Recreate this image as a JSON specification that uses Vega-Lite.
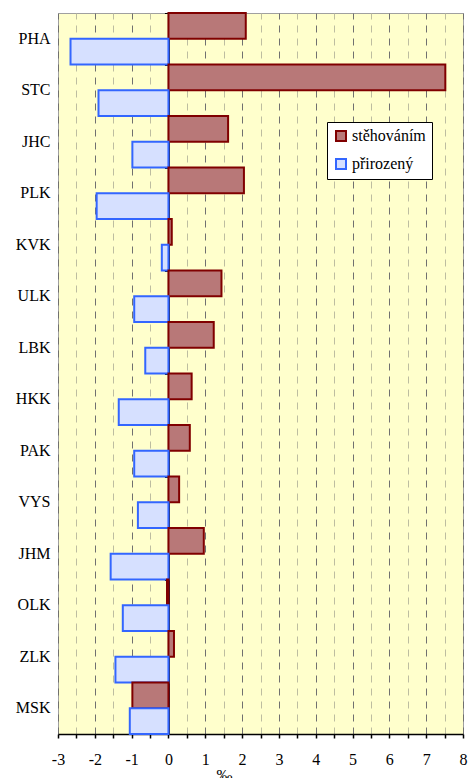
{
  "$schema": "https://vega.github.io/schema/vega-lite/v6.json",
  "width": 405,
  "height": 721,
  "autosize": {"type": "none"},
  "padding": {"left": 58, "top": 13, "right": 9, "bottom": 44},
  "background": "white",
  "config": {"view": {"fill": "#FFFFCC", "stroke": "#A0A0A0", "strokeWidth": 1}, "font": "Liberation Serif"},
  "data": {"values": [
    {"kraj": "PHA", "typ": "stěhováním", "hodnota": 2.1},
    {"kraj": "PHA", "typ": "přirozený", "hodnota": -2.66},
    {"kraj": "STC", "typ": "stěhováním", "hodnota": 7.52},
    {"kraj": "STC", "typ": "přirozený", "hodnota": -1.9},
    {"kraj": "JHC", "typ": "stěhováním", "hodnota": 1.62},
    {"kraj": "JHC", "typ": "přirozený", "hodnota": -0.98},
    {"kraj": "PLK", "typ": "stěhováním", "hodnota": 2.05},
    {"kraj": "PLK", "typ": "přirozený", "hodnota": -1.95},
    {"kraj": "KVK", "typ": "stěhováním", "hodnota": 0.09},
    {"kraj": "KVK", "typ": "přirozený", "hodnota": -0.18},
    {"kraj": "ULK", "typ": "stěhováním", "hodnota": 1.44},
    {"kraj": "ULK", "typ": "přirozený", "hodnota": -0.93},
    {"kraj": "LBK", "typ": "stěhováním", "hodnota": 1.23},
    {"kraj": "LBK", "typ": "přirozený", "hodnota": -0.63},
    {"kraj": "HKK", "typ": "stěhováním", "hodnota": 0.63},
    {"kraj": "HKK", "typ": "přirozený", "hodnota": -1.35},
    {"kraj": "PAK", "typ": "stěhováním", "hodnota": 0.58},
    {"kraj": "PAK", "typ": "přirozený", "hodnota": -0.93},
    {"kraj": "VYS", "typ": "stěhováním", "hodnota": 0.29},
    {"kraj": "VYS", "typ": "přirozený", "hodnota": -0.83},
    {"kraj": "JHM", "typ": "stěhováním", "hodnota": 0.96},
    {"kraj": "JHM", "typ": "přirozený", "hodnota": -1.57},
    {"kraj": "OLK", "typ": "stěhováním", "hodnota": -0.04},
    {"kraj": "OLK", "typ": "přirozený", "hodnota": -1.24},
    {"kraj": "ZLK", "typ": "stěhováním", "hodnota": 0.15},
    {"kraj": "ZLK", "typ": "přirozený", "hodnota": -1.44},
    {"kraj": "MSK", "typ": "stěhováním", "hodnota": -0.98},
    {"kraj": "MSK", "typ": "přirozený", "hodnota": -1.05}
  ]},
  "encoding": {
    "x": {"field": "hodnota", "type": "quantitative",
          "scale": {"domain": [-3, 8], "nice": false},
          "axis": {
            "values": [-3, -2.5, -2, -1.5, -1, -0.5, 0, 0.5, 1, 1.5, 2, 2.5, 3, 3.5, 4, 4.5, 5, 5.5, 6, 6.5, 7, 7.5, 8],
            "labelExpr": "datum.value % 1 === 0 ? '' + datum.value : ''",
            "labelOverlap": false,
            "labelBound": false,
            "labelFlush": false,
            "grid": true,
            "gridColor": {"condition": {"test": "datum.value % 1 !== 0", "value": "#BDBDA0"}, "value": "#707070"},
            "gridDash": [7, 6],
            "gridWidth": 1,
            "domainColor": "black", "domainWidth": 1.5,
            "tickColor": "black", "tickSize": 4, "tickWidth": 1.5,
            "labelFontSize": 16, "labelColor": "black", "labelPadding": 13,
            "title": "‰", "titleFontSize": 16, "titleFontWeight": "normal", "titleColor": "black",
            "titleX": 166, "titleY": 33, "titleBaseline": "top"
          }},
    "x2": {"datum": 0}
  },
  "layer": [
    {
      "mark": {"type": "bar", "opacity": 0},
      "encoding": {
        "y": {"field": "kraj", "type": "nominal", "sort": null,
              "axis": {"orient": "left", "offset": -110.45, "labels": false, "title": null, "domain": true, "domainColor": "#101030", "domainWidth": 2, "ticks": true, "tickSize": 4, "tickColor": "black", "tickWidth": 1, "tickBand": "extent", "grid": false}}
      }
    },
    {
      "mark": {"type": "bar", "strokeWidth": 2},
      "encoding": {
        "y": {"field": "kraj", "type": "nominal", "sort": null,
              "scale": {"paddingInner": 0, "paddingOuter": 0},
              "axis": {"orient": "left", "title": null, "domain": false, "ticks": false, "labelFontSize": 16, "labelColor": "black", "labelPadding": 8}},
        "yOffset": {"field": "typ", "sort": ["stěhováním", "přirozený"], "scale": {"paddingInner": 0, "paddingOuter": 0}},
        "fill": {"field": "typ", "type": "nominal",
                 "scale": {"domain": ["stěhováním", "přirozený"], "range": ["#B87878", "#D6E0FF"]},
                 "legend": {"orient": "none", "legendX": 269, "legendY": 109, "title": null, "fillColor": "white", "strokeColor": "black", "padding": 6, "labelFontSize": 16, "labelColor": "black", "symbolType": "square", "symbolSize": 100, "symbolStrokeWidth": 2, "rowPadding": 10, "labelOffset": 3}},
        "stroke": {"field": "typ", "type": "nominal",
                   "scale": {"domain": ["stěhováním", "přirozený"], "range": ["#800000", "#3366FF"]},
                   "legend": {"orient": "none", "legendX": 269, "legendY": 109, "title": null, "fillColor": "white", "strokeColor": "black", "padding": 6, "labelFontSize": 16, "labelColor": "black", "symbolType": "square", "symbolSize": 100, "symbolStrokeWidth": 2, "rowPadding": 10, "labelOffset": 3}}
      }
    }
  ],
  "resolve": {"axis": {"y": "independent"}}
}
